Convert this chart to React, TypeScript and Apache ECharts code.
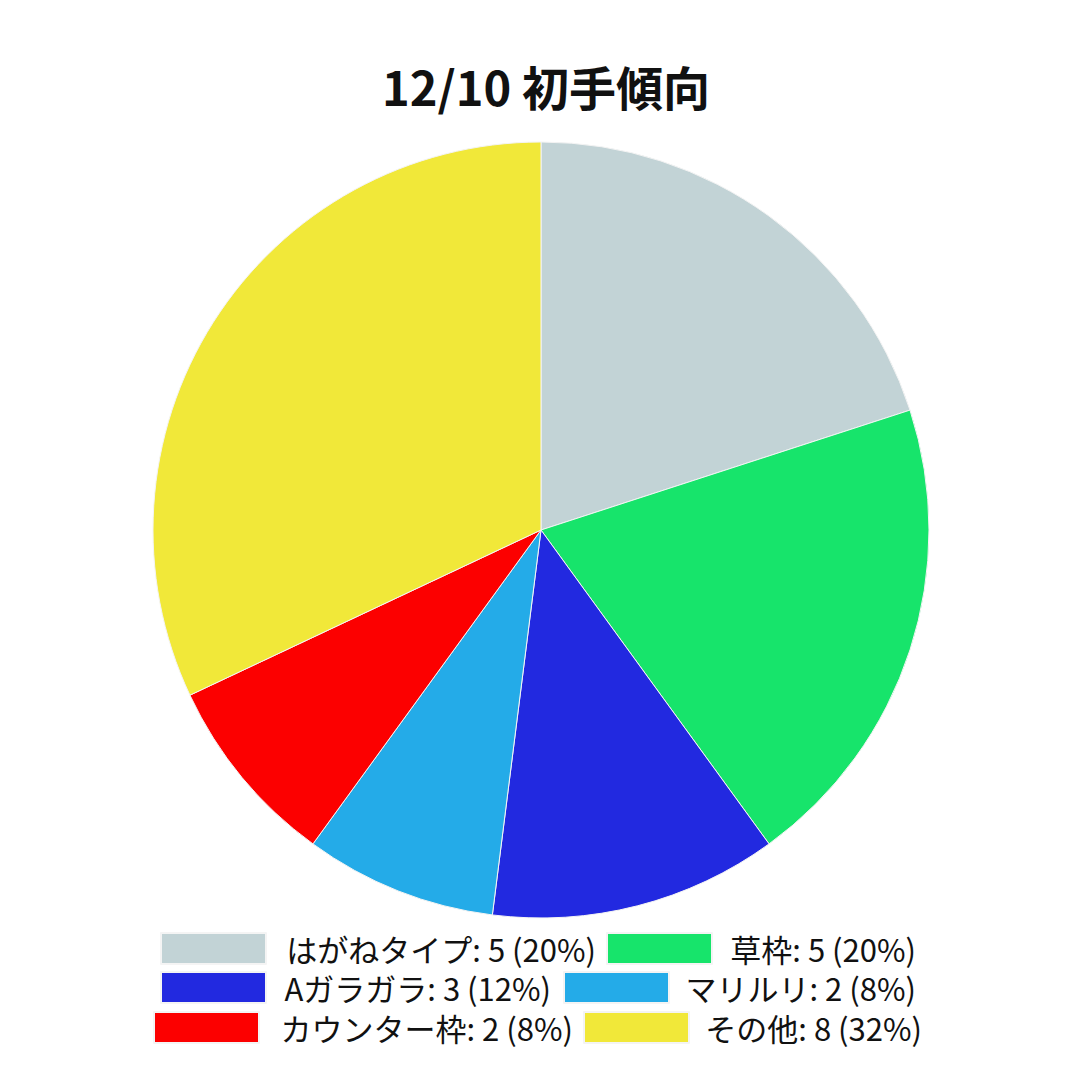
import { useEffect, useRef } from 'react'
import * as echarts from 'echarts'

const names = ['はがねタイプ', '草枠', 'Aガラガラ', 'マリルリ', 'カウンター枠', 'その他']
const values = [5, 5, 3, 2, 2, 8]
const colors = ['#c2d3d6', '#17e46b', '#2229e0', '#24abe8', '#fc0000', '#f1e839']
const legendRows = [
  ['はがねタイプ', '草枠'],
  ['Aガラガラ', 'マリルリ'],
  ['カウンター枠', 'その他'],
]

export default function App() {
  const ref = useRef<HTMLDivElement | null>(null)

  useEffect(() => {
    if (!ref.current) return
    document.body.style.margin = '0'
    const chart = echarts.init(ref.current, null, { renderer: 'svg' })
    const total = values.reduce((a, b) => a + b, 0)
    const label = (name: string) => {
      const v = values[names.indexOf(name)]
      return `${name}: ${v} (${Math.round((v / total) * 100)}%)`
    }
    // text box widths per legend item, right aligned
    const boxW = [325, 199, 280, 242, 309, 228]
    const rowLeft = [160, 160, 153]
    const rowTop = [932, 971, 1011]
    const rowGap = [10, 12, 10]
    const font = '"Noto Sans CJK JP", "Noto Sans", sans-serif'

    const rich: Record<string, any> = {}
    names.forEach((_, i) => {
      rich['w' + i] = {
        width: boxW[i],
        align: 'right',
        fontSize: 31,
        lineHeight: 31,
        color: '#111',
        fontFamily: font,
      }
    })

    chart.setOption({
      animation: false,
      title: {
        text: '12/10 初手傾向',
        left: 541,
        textAlign: 'center',
        top: 57,
        textStyle: { fontSize: 47, fontWeight: 'bold', color: '#111', fontFamily: font },
      },
      legend: legendRows.map((row, r) => ({
        data: row,
        left: rowLeft[r],
        top: rowTop[r],
        padding: 0,
        itemGap: rowGap[r],
        itemWidth: 105,
        itemHeight: 31,
        icon: 'rect',
        selectedMode: false,
        formatter: (name: string) => `{w${names.indexOf(name)}|${label(name)}}`,
        textStyle: { rich, fontSize: 31, fontFamily: font },
      })),
      series: [
        {
          type: 'pie',
          center: [541, 530],
          radius: 388,
          startAngle: 90,
          clockwise: true,
          label: { show: false },
          labelLine: { show: false },
          emphasis: { disabled: true },
          itemStyle: { borderColor: '#f4f4f4', borderWidth: 1 },
          data: names.map((n, i) => ({ name: n, value: values[i], itemStyle: { color: colors[i] } })),
        },
      ],
    })

    return () => chart.dispose()
  }, [])

  return <div ref={ref} style={{ width: 1080, height: 1081, background: '#fff' }} />
}
